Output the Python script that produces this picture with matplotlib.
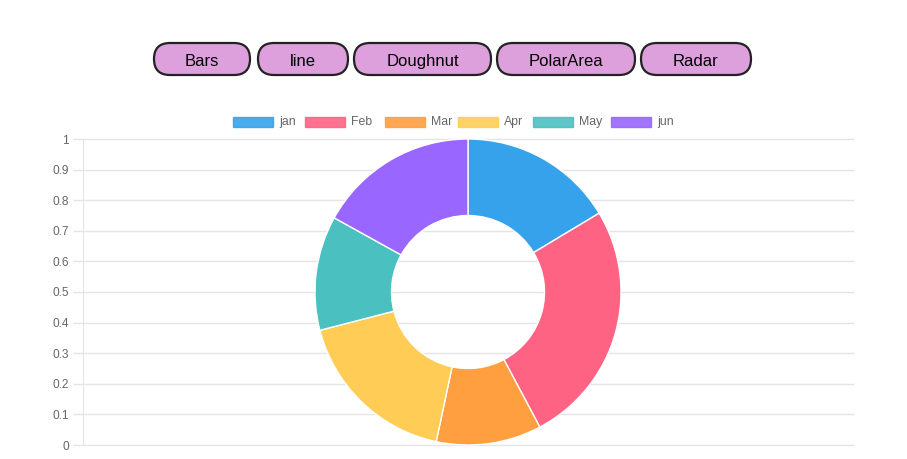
import matplotlib.pyplot as plt
from matplotlib.patches import FancyBboxPatch, Rectangle
from matplotlib.transforms import Affine2D

months = ["jan", "Feb", "Mar", "Apr", "May", "jun"]
values = [59, 93, 40, 63.5, 43.5, 61]
colors = ["#36a2eb", "#ff6384", "#ff9f40", "#ffcd56", "#4bc0c0", "#9966ff"]
buttons = ["Bars", "line", "Doughnut", "PolarArea", "Radar"]
y_ticks = [0, 0.1, 0.2, 0.3, 0.4, 0.5, 0.6, 0.7, 0.8, 0.9, 1]

plt.rcParams['font.family'] = ['Liberation Sans', 'DejaVu Sans']

W, H, DPI = 907, 459, 100
fig = plt.figure(figsize=(W / DPI, H / DPI), dpi=DPI)
px = Affine2D().scale(1 / DPI) + fig.dpi_scale_trans  # pixel coords, y from bottom


def fy(y):
    return H - y


# background axis with grid 0..1
ax = fig.add_axes([83 / W, (H - 445) / H, (853 - 83) / W, 306 / H])
ax.set_ylim(0, 1)
ax.set_xlim(0, 1)
ax.set_yticks(y_ticks)
ax.set_yticklabels([f"{t:g}" for t in y_ticks])
ax.set_xticks([])
ax.grid(axis='y', color='#e5e5e5', linewidth=1)
for gl in ax.yaxis.get_gridlines():
    gl.set_clip_on(False)
ax.set_axisbelow(True)
for s in ['top', 'right', 'bottom']:
    ax.spines[s].set_visible(False)
ax.spines['left'].set_color('#e5e5e5')
ax.tick_params(axis='y', colors='#e5e5e5', labelcolor='#666666', labelsize=8.6,
               length=7, width=1, pad=3)

# doughnut
r = 153
cx, cy = 468, 292
pax = fig.add_axes([(cx - r) / W, (H - cy - r) / H, 2 * r / W, 2 * r / H])
pax.pie(values, colors=colors, startangle=90, counterclock=False, radius=1,
        wedgeprops=dict(width=0.5, edgecolor='white', linewidth=1))
pax.set_xlim(-1, 1)
pax.set_ylim(-1, 1)
pax.axis('off')

# legend
leg_x = [233, 305, 385, 458, 533, 611]
for x, lab, c in zip(leg_x, months, colors):
    fig.patches.append(Rectangle((x, fy(127)), 40, 10, transform=px,
                                 facecolor=c, edgecolor=c, alpha=0.9, linewidth=1))
    fig.text(x + 46, fy(122), lab, transform=px, fontsize=8.8, color='#666666',
             va='center', ha='left')

# buttons
btn_x = [(154, 250), (258, 348), (354, 491), (497, 635), (641, 751)]
for (x0, x1), lab in zip(btn_x, buttons):
    fig.patches.append(FancyBboxPatch((x0, fy(75)), x1 - x0, 32,
                                      boxstyle="round,pad=0,rounding_size=16",
                                      transform=px, facecolor='#dda0dd',
                                      edgecolor='#222222', linewidth=1.6))
    fig.text((x0 + x1) / 2, fy(60), lab, transform=px, fontsize=12,
             color='black', ha='center', va='center_baseline')

fig.savefig("out.png", dpi=DPI)
